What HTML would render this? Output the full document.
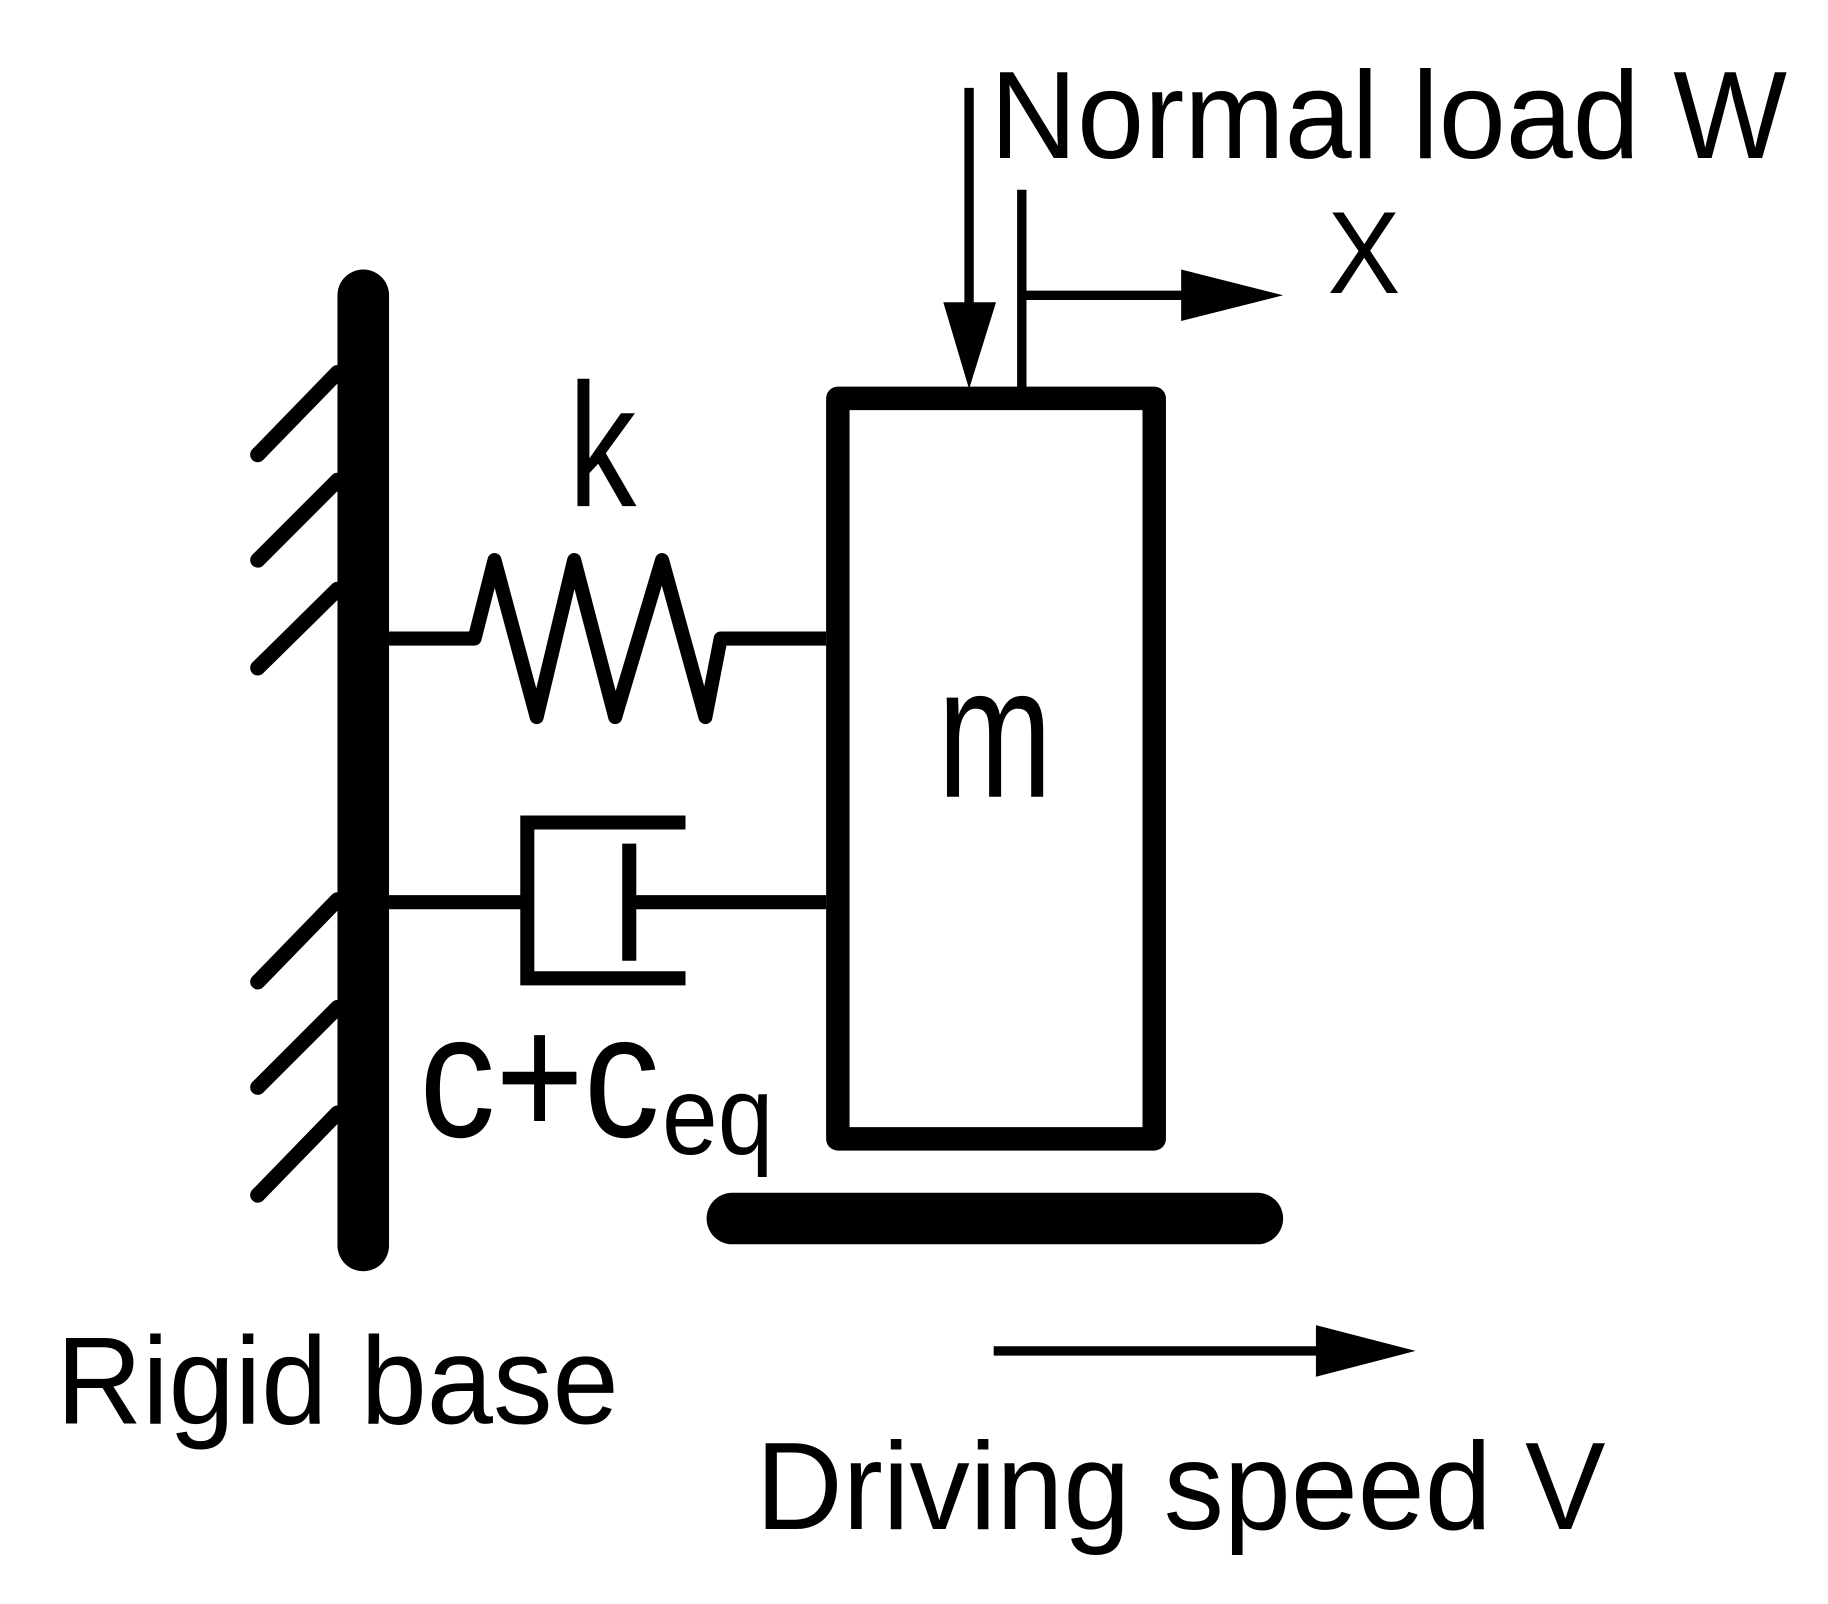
<!DOCTYPE html>
<html><head><style>html,body{margin:0;padding:0;background:#fff}svg{display:block}</style></head>
<body>
<svg width="1828" height="1604" viewBox="0 0 1560 1369" preserveAspectRatio="none" xmlns="http://www.w3.org/2000/svg">
<g stroke="#000" fill="none" stroke-linecap="round">
<line x1="310" y1="252" x2="310" y2="1063" stroke-width="44"/>
<g stroke-width="13">
<line x1="288" y1="318" x2="220" y2="388"/>
<line x1="288" y1="410" x2="220" y2="478"/>
<line x1="288" y1="503" x2="220" y2="570"/>
<line x1="288" y1="768" x2="220" y2="838"/>
<line x1="288" y1="860" x2="220" y2="928"/>
<line x1="288" y1="950" x2="220" y2="1020"/>
</g>
<polyline stroke-linecap="butt" stroke-linejoin="round" stroke-width="12" points="332,545 405,545 422,478 458,612 490,478 525,612 565,478 602,612 615,545 705,545"/>
<line x1="332" y1="770" x2="450" y2="770" stroke-width="12" stroke-linecap="butt"/>
<path d="M585,702 H450 V835 H585" stroke-width="12" stroke-linecap="butt"/>
<line x1="537" y1="720" x2="537" y2="820" stroke-width="12" stroke-linecap="butt"/>
<line x1="537" y1="770" x2="705" y2="770" stroke-width="12" stroke-linecap="butt"/>
<rect x="715" y="340" width="270" height="632" stroke-width="20" stroke-linejoin="round"/>
<line x1="625" y1="1040" x2="1073" y2="1040" stroke-width="44"/>
<line x1="827" y1="75" x2="827" y2="270" stroke-width="8" stroke-linecap="butt"/>
<line x1="872" y1="162" x2="872" y2="335" stroke-width="8" stroke-linecap="butt"/>
<line x1="872" y1="252" x2="1015" y2="252" stroke-width="8" stroke-linecap="butt"/>
<line x1="848" y1="1153" x2="1130" y2="1153" stroke-width="8" stroke-linecap="butt"/>
</g>
<g fill="#000">
<polygon points="805,258 850,258 827,332"/>
<polygon points="1008,230 1095,252 1008,274"/>
<polygon points="1123,1131 1208,1153 1123,1175"/>
</g>
<g font-family="Liberation Sans, sans-serif" fill="#000">
<text x="845" y="135" font-size="106" textLength="680" lengthAdjust="spacingAndGlyphs">Normal load W</text>
<text x="1133" y="250" font-size="100" textLength="62" lengthAdjust="spacingAndGlyphs">X</text>
<text x="485" y="432" font-size="150" textLength="58" lengthAdjust="spacingAndGlyphs">k</text>
<text x="800" y="680" font-size="160" textLength="98" lengthAdjust="spacingAndGlyphs">m</text>
<text x="358" y="970" font-size="150" textLength="205" lengthAdjust="spacingAndGlyphs">c+c</text>
<text x="565" y="985" font-size="95" textLength="95" lengthAdjust="spacingAndGlyphs">eq</text>
<text x="48" y="1215" font-size="106" textLength="480" lengthAdjust="spacingAndGlyphs">Rigid base</text>
<text x="645" y="1305" font-size="106" textLength="725" lengthAdjust="spacingAndGlyphs">Driving speed V</text>
</g>
</svg>
</body></html>
